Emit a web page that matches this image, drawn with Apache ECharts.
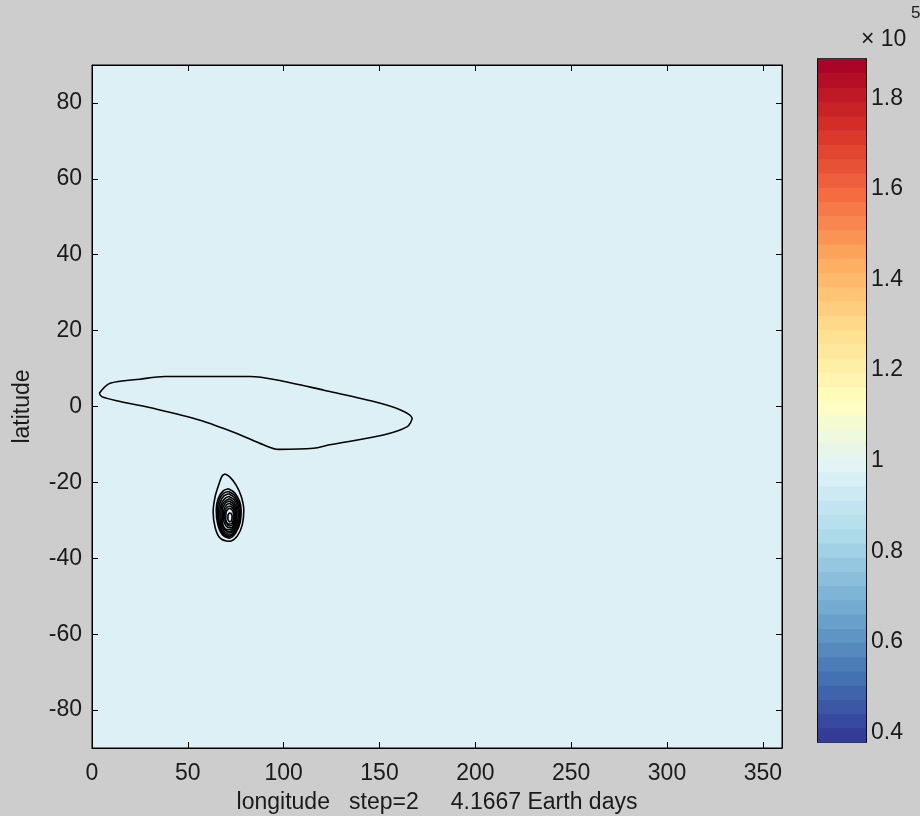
<!DOCTYPE html>
<html>
<head>
<meta charset="utf-8">
<script src="https://cdn.jsdelivr.net/npm/echarts@6/dist/echarts.min.js"></script>
<style>
  html, body { margin: 0; padding: 0; background: #cdcdcd; }
  #chart { width: 920px; height: 816px; }
</style>
</head>
<body>
<div id="chart"></div>
<script>
// ---------- data ----------
const lonTicks = [0, 50, 100, 150, 200, 250, 300, 350];
const latTicks = [-80, -60, -40, -20, 0, 20, 40, 60, 80];
const cbTicks = [0.4, 0.6, 0.8, 1, 1.2, 1.4, 1.6, 1.8];
const cbMin = 0.379;
const cbMax = 1.887;
const cbBandCount = 48;
const xLabelText = 'longitude   step=2     4.1667 Earth days';
const yLabelText = 'latitude';

// big closed contour (lon, lat)
const loopContour = [
  [3.8, 3.5], [9.4, 6.1], [25, 7.2], [38, 7.9], [60, 7.9], [82.5, 7.9], [96.5, 7.0],
  [121, 4.3], [147, 1.3], [161, -0.9], [167, -3.1], [164.5, -5.3], [152, -7.5],
  [124, -10.1], [115.6, -11.0], [97.3, -11.3], [89.5, -10.1], [75.6, -7.1],
  [56.4, -3.6], [33.8, -0.7], [12.9, 1.5], [5.1, 2.6], [3.8, 3.5]
];
// concentric contours of the eddy near (72, -29)
const eddyRing1 = [[69.5,-17.8],[72,-18.6],[75.2,-20.7],[77.8,-23.6],[79.2,-27.3],[78.4,-31.2],[75.8,-34.1],[71.6,-35.5],[66.9,-34.7],[64.3,-32],[63.2,-27.8],[64.3,-23.6],[66.4,-20.2],[67.9,-18.3],[69.5,-17.8]];
const eddyRing2 = [[71.1,-21.7],[74.5,-22.8],[77,-25],[77.8,-27.3],[77.3,-30.5],[75,-33.3],[71.6,-34.7],[68,-33.8],[65.6,-31],[64.8,-27.3],[65.8,-24.3],[68.3,-22.3],[71.1,-21.7]];
const eddyRing3 = [[71.2,-22.4],[74.4,-23.4],[76.7,-25.5],[77.4,-27.9],[76.7,-31],[74.3,-33.4],[71.3,-34.3],[68.1,-33.4],[66,-30.8],[65.4,-27.5],[66.4,-24.6],[68.6,-22.9],[71.2,-22.4]];
const eddyRing4 = [[71.3,-23],[74.3,-24],[76.4,-26],[76.9,-28.5],[76,-31.5],[73.6,-33.5],[71,-33.9],[68.2,-33],[66.4,-30.5],[66,-27.8],[67,-25],[69,-23.5],[71.3,-23]];
const eddyRing5 = [[71.4,-23.7],[74.2,-24.6],[76,-26.6],[76.3,-29.2],[75,-31.9],[72.6,-33.3],[70.2,-33.4],[68.1,-32.1],[66.9,-30.2],[66.7,-27.5],[67.9,-25.1],[69.9,-24],[71.4,-23.7]];
const eddyRing6 = [[71.5,-24.3],[74,-25.2],[75.6,-27.3],[75.6,-30],[74,-32.3],[71.5,-33],[69,-32.2],[67.4,-30],[67.3,-27.3],[68.8,-25.2],[71.5,-24.3]];
const eddyRing7 = [[71.6,-24.9],[73.9,-25.8],[75.2,-27.9],[75,-30.4],[73.2,-32.2],[71,-32.5],[68.8,-31.8],[68,-29.8],[68,-27.3],[69.5,-25.5],[71.6,-24.9]];
const eddyRing8 = [[71.7,-25.5],[73.8,-26.4],[74.8,-28.5],[74.3,-30.8],[72.3,-32],[70,-31.5],[68.6,-29.5],[68.8,-27.3],[70.2,-25.9],[71.7,-25.5]];
const eddyRing9 = [[71.9,-26.2],[73.7,-27],[74.4,-28.8],[73.7,-30.8],[71.8,-31.5],[70,-30.7],[69.2,-29.1],[69.4,-27.6],[70.6,-26.5],[71.9,-26.2]];
const eddyRing10 = [[72,-26.8],[73.5,-27.6],[73.9,-29.2],[73,-30.8],[71.2,-31],[69.8,-29.8],[69.9,-28],[71,-27],[72,-26.8]];
const eddyRing11 = [[72.2,-28],[73.1,-28.8],[72.9,-30],[71.8,-30.4],[70.9,-29.6],[71.1,-28.4],[72.2,-28]];

// ---------- style ----------
const FONT = '"Liberation Sans", Arial, sans-serif';
const FS = 23;
const rdylbu = ['#313695','#4575b4','#74add1','#abd9e9','#e0f3f8','#ffffbf','#fee090','#fdae61','#f46d43','#d73027','#a50026'];

function hex2rgb(h) { return [1,3,5].map(i => parseInt(h.slice(i, i + 2), 16)); }
function cmap(t) {
  t = Math.max(0, Math.min(1, t));
  const s = t * (rdylbu.length - 1);
  const i = Math.min(rdylbu.length - 2, Math.floor(s));
  const f = s - i;
  const a = hex2rgb(rdylbu[i]), b = hex2rgb(rdylbu[i + 1]);
  const c = a.map((v, k) => Math.round(v + (b[k] - v) * f));
  return 'rgb(' + c.join(',') + ')';
}
const bandData = [];
const bandColors = [];
for (let i = 0; i < cbBandCount; i++) {
  const lo = cbMin + (cbMax - cbMin) * i / cbBandCount;
  const hi = cbMin + (cbMax - cbMin) * (i + 1) / cbBandCount;
  bandData.push([lo, hi]);
  bandColors.push(cmap((i + 0.5) / cbBandCount));
}

function contourSeries(data, width) {
  return {
    type: 'line', xAxisIndex: 0, yAxisIndex: 0, data: data,
    showSymbol: false, symbol: 'none', smooth: 0.3,
    lineStyle: { color: '#000', width: width }, silent: true, animation: false, z: 5
  };
}

const labelStyle = { color: '#1a1a1a', fontFamily: FONT, fontSize: FS };

const chart = echarts.init(document.getElementById('chart'), null, { renderer: 'canvas' });
chart.setOption({
  backgroundColor: '#cdcdcd',
  animation: false,
  grid: [
    { left: 92, right: 138, top: 65, bottom: 68, containLabel: false, outerBoundsMode: 'none', show: true, backgroundColor: '#ddf0f6', borderColor: '#000', borderWidth: 1 },
    { left: 818, right: 54, top: 59, bottom: 74, containLabel: false, outerBoundsMode: 'none', show: true, backgroundColor: 'transparent', borderColor: '#000', borderWidth: 1.5 }
  ],
  xAxis: [
    {
      type: 'value', gridIndex: 0, min: 0, max: 360, position: 'bottom',
      name: xLabelText, nameLocation: 'middle', nameGap: 43,
      nameTextStyle: Object.assign({}, labelStyle),
      axisLine: { show: true, onZero: false, lineStyle: { color: '#000', width: 1 } },
      axisTick: { show: true, inside: true, length: 6, customValues: lonTicks, lineStyle: { color: '#000' } },
      axisLabel: Object.assign({ customValues: lonTicks, margin: 14 }, labelStyle),
      splitLine: { show: false }
    },
    {
      type: 'value', gridIndex: 0, min: 0, max: 360, position: 'top',
      axisLine: { show: true, onZero: false, lineStyle: { color: '#000', width: 1 } },
      axisTick: { show: true, inside: true, length: 6, customValues: lonTicks, lineStyle: { color: '#000' } },
      axisLabel: { show: false },
      splitLine: { show: false }
    },
    {
      type: 'value', gridIndex: 1, min: 0, max: 1, show: false
    }
  ],
  yAxis: [
    {
      type: 'value', gridIndex: 0, min: -90, max: 90, position: 'left',
      name: yLabelText, nameLocation: 'middle', nameGap: 58, nameRotate: 90,
      nameTextStyle: Object.assign({}, labelStyle),
      axisLine: { show: true, onZero: false, lineStyle: { color: '#000', width: 1 } },
      axisTick: { show: true, inside: true, length: 6, customValues: latTicks, lineStyle: { color: '#000' } },
      axisLabel: Object.assign({ customValues: latTicks, margin: 10 }, labelStyle),
      splitLine: { show: false }
    },
    {
      type: 'value', gridIndex: 0, min: -90, max: 90, position: 'right',
      axisLine: { show: true, onZero: false, lineStyle: { color: '#000', width: 1 } },
      axisTick: { show: true, inside: true, length: 6, customValues: latTicks, lineStyle: { color: '#000' } },
      axisLabel: { show: false },
      splitLine: { show: false }
    },
    {
      type: 'value', gridIndex: 1, min: cbMin, max: cbMax, position: 'right',
      axisLine: { show: true, onZero: false, lineStyle: { color: '#000', width: 1.5 } },
      axisTick: { show: true, inside: true, length: 6, customValues: cbTicks, lineStyle: { color: '#000', width: 1.5 } },
      axisLabel: Object.assign({ customValues: cbTicks, margin: 5, formatter: v => String(Number(v.toFixed(1))) }, labelStyle),
      splitLine: { show: false }
    },
    {
      type: 'value', gridIndex: 1, min: cbMin, max: cbMax, position: 'left',
      axisLine: { show: true, onZero: false, lineStyle: { color: '#000', width: 1.5 } },
      axisTick: { show: true, inside: true, length: 6, customValues: cbTicks, lineStyle: { color: '#000', width: 1.5 } },
      axisLabel: { show: false },
      splitLine: { show: false }
    }
  ],
  graphic: [
    { type: 'text', left: 861, top: 28, style: { text: '× 10', font: FS + 'px ' + FONT, fill: '#1a1a1a' } },
    { type: 'text', left: 911, top: 5, style: { text: '5', font: '17px ' + FONT, fill: '#1a1a1a' } }
  ],
  series: [
    {
      type: 'custom', xAxisIndex: 2, yAxisIndex: 2, data: bandData,
      encode: { y: [0, 1] }, silent: true, animation: false, z: 1,
      renderItem: function (params, api) {
        const lo = api.value(0), hi = api.value(1);
        const p1 = api.coord([0, hi]);
        const p2 = api.coord([1, lo]);
        return {
          type: 'rect',
          shape: { x: p1[0], y: p1[1], width: p2[0] - p1[0], height: p2[1] - p1[1] + 0.6 },
          style: { fill: bandColors[params.dataIndex] }
        };
      }
    },
    contourSeries(loopContour, 1.6),
    contourSeries(eddyRing1, 1.6),
    contourSeries(eddyRing2, 1.6),
    contourSeries(eddyRing3, 1.6),
    contourSeries(eddyRing4, 1.6),
    contourSeries(eddyRing5, 1.6),
    contourSeries(eddyRing6, 1.6),
    contourSeries(eddyRing7, 1.6),
    contourSeries(eddyRing8, 1.6),
    contourSeries(eddyRing9, 1.6),
    contourSeries(eddyRing10, 1.6),
    contourSeries(eddyRing11, 1.6)
  ]
});
</script>
</body>
</html>
